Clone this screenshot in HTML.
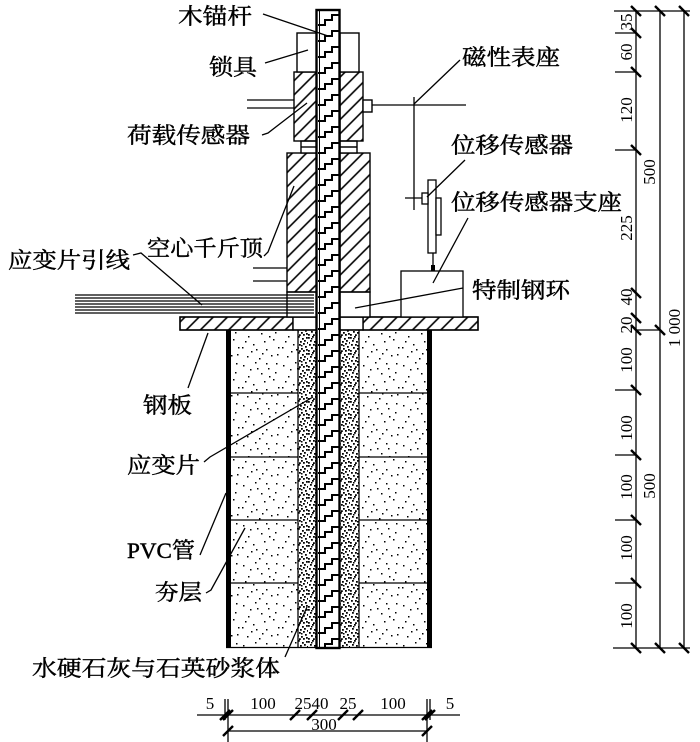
<!DOCTYPE html>
<html><head><meta charset="utf-8"><style>
html,body{margin:0;padding:0;background:#fff;}
svg{display:block;}
.cn{font-family:"Liberation Serif","Noto Serif CJK SC",serif;font-size:22px;fill:#000;stroke:#000;stroke-width:0.45px;}
.d{font-family:"Liberation Serif",serif;font-size:17px;fill:#000;}
</style></head><body>
<svg width="700" height="742" viewBox="0 0 700 742" xmlns="http://www.w3.org/2000/svg">
<defs>
<pattern id="h" width="10" height="10" patternUnits="userSpaceOnUse" patternTransform="rotate(45)"><line x1="5" y1="-1" x2="5" y2="11" stroke="#000" stroke-width="1.6"/></pattern>
<pattern id="sp" width="40" height="40" patternUnits="userSpaceOnUse"><path fill="#000" d="M3,5h1.5v1.5h-1.5z M15,2h1.5v1.5h-1.5z M28,8h1.5v1.5h-1.5z M36,3h1.5v1.5h-1.5z M8,16h1.5v1.5h-1.5z M21,13h1.5v1.5h-1.5z M33,19h1.5v1.5h-1.5z M2,27h1.5v1.5h-1.5z M13,24h1.5v1.5h-1.5z M26,29h1.5v1.5h-1.5z M38,27h1.5v1.5h-1.5z M7,36h1.5v1.5h-1.5z M19,38h1.5v1.5h-1.5z M31,35h1.5v1.5h-1.5z M24,21h1.5v1.5h-1.5z M11,31h1.5v1.5h-1.5z M17,8h1.5v1.5h-1.5z M35,12h1.5v1.5h-1.5z M5,21h1.5v1.5h-1.5z M29,16h1.5v1.5h-1.5z M22,33h1.5v1.5h-1.5z M10,9h1.5v1.5h-1.5z M37,34h1.5v1.5h-1.5z M16,29h1.5v1.5h-1.5z M26,3h1.5v1.5h-1.5z"/></pattern>
<pattern id="dn" width="14" height="16" patternUnits="userSpaceOnUse"><path fill="#000" d="M0,1h1.8v1.8h-1.8z M4,0h1.8v1.8h-1.8z M8,2h1.8v1.8h-1.8z M12,1h1.8v1.8h-1.8z M2,4h1.8v1.8h-1.8z M6,5h1.8v1.8h-1.8z M10,4h1.8v1.8h-1.8z M13,6h1v1.8h-1z M1,8h1.8v1.8h-1.8z M5,8h1.8v1.8h-1.8z M9,7h1.8v1.8h-1.8z M11,10h1.8v1.8h-1.8z M3,11h1.8v1.8h-1.8z M7,12h1.8v1.8h-1.8z M12,13h1.8v1.8h-1.8z M0,14h1.8v1.8h-1.8z M5,14.2h1.8v1.8h-1.8z M9,14h1.8v1.8h-1.8z M7,9h1.5v1.5h-1.5z M3,2h1.5v1.5h-1.5z"/></pattern>
<pattern id="st" x="318" y="10" width="22" height="16" patternUnits="userSpaceOnUse"><path d="M0,15 H7 V10 H14 V5 H22" fill="none" stroke="#000" stroke-width="2"/></pattern>
</defs>
<rect width="700" height="742" fill="#fff"/>

<!-- body fill -->
<rect x="231" y="330" width="67" height="318" fill="url(#sp)"/>
<rect x="359" y="330" width="68" height="318" fill="url(#sp)"/>
<rect x="298" y="330" width="19" height="318" fill="url(#dn)"/>
<rect x="340" y="330" width="19" height="318" fill="url(#dn)"/>
<g stroke="#000" stroke-width="1.3">
<line x1="231" y1="393" x2="298" y2="393"/><line x1="359" y1="393" x2="427" y2="393"/>
<line x1="231" y1="457" x2="298" y2="457"/><line x1="359" y1="457" x2="427" y2="457"/>
<line x1="231" y1="520" x2="298" y2="520"/><line x1="359" y1="520" x2="427" y2="520"/>
<line x1="231" y1="583" x2="298" y2="583"/><line x1="359" y1="583" x2="427" y2="583"/>
<line x1="298" y1="330" x2="298" y2="648"/><line x1="359" y1="330" x2="359" y2="648"/>
<line x1="226" y1="647.5" x2="432" y2="647.5"/>
</g>
<rect x="226" y="330" width="5" height="318" fill="#000"/>
<rect x="427" y="330" width="5" height="318" fill="#000"/>

<!-- plate -->
<g stroke="#000" stroke-width="1.4">
<rect x="180" y="317" width="113" height="13" fill="url(#h)"/>
<rect x="363" y="317" width="115" height="13" fill="url(#h)"/>
<rect x="293" y="317" width="24" height="13" fill="#fff"/>
<rect x="340" y="317" width="23" height="13" fill="#fff"/>
<rect x="180" y="317" width="298" height="13" fill="none"/>
<!-- ring -->
<rect x="287" y="292" width="30" height="25" fill="#fff"/>
<rect x="340" y="292" width="30" height="25" fill="#fff"/>
<!-- jack -->
<rect x="287" y="153" width="30" height="139" fill="url(#h)"/>
<rect x="340" y="153" width="30" height="139" fill="url(#h)"/>
<!-- spacers -->
<rect x="301" y="141" width="16" height="12" fill="#fff"/>
<rect x="340" y="141" width="17" height="12" fill="#fff"/>
<line x1="301" y1="147" x2="317" y2="147"/><line x1="340" y1="147" x2="357" y2="147"/>
<!-- load sensor -->
<rect x="294" y="72" width="23" height="69" fill="url(#h)"/>
<rect x="340" y="72" width="23" height="69" fill="url(#h)"/>
<!-- lock -->
<rect x="297" y="33" width="20" height="39" fill="#fff"/>
<rect x="340" y="33" width="19" height="39" fill="#fff"/>
<!-- knob -->
<rect x="363" y="100" width="9" height="12" fill="#fff"/>
</g>
<!-- rod -->
<rect x="317" y="10" width="23" height="638" fill="#fff"/>
<rect x="318" y="10" width="22" height="638" fill="url(#st)"/>
<rect x="316.5" y="10" width="23" height="638" fill="none" stroke="#000" stroke-width="2.4"/>
<line x1="319.5" y1="10" x2="319.5" y2="648" stroke="#000" stroke-width="1"/>

<!-- side lines and wires -->
<g stroke="#000" stroke-width="1.3">
<line x1="247" y1="100" x2="294" y2="100"/><line x1="247" y1="108" x2="294" y2="108"/>
<line x1="253" y1="268" x2="287" y2="268"/><line x1="253" y1="281" x2="287" y2="281"/>
<line x1="75" y1="295" x2="314" y2="295"/><line x1="75" y1="298" x2="314" y2="298"/>
<line x1="75" y1="301" x2="314" y2="301"/><line x1="75" y1="304" x2="314" y2="304"/>
<line x1="75" y1="307" x2="314" y2="307"/><line x1="75" y1="310" x2="314" y2="310"/>
<line x1="75" y1="313" x2="314" y2="313"/>
<!-- magnetic base -->
<line x1="372" y1="105" x2="466" y2="105"/>
<line x1="414" y1="97" x2="414" y2="210"/>
<line x1="405" y1="198" x2="422" y2="198"/>
<!-- displacement sensor -->
<rect x="428" y="180" width="8" height="73" fill="#fff"/>
<rect x="422" y="193" width="6" height="11" fill="#fff"/>
<rect x="436" y="198" width="5" height="37" fill="#fff"/>
<line x1="433" y1="253" x2="433" y2="265"/>
<rect x="401" y="271" width="62" height="46" fill="#fff"/>
</g>
<rect x="431" y="265" width="4" height="6" fill="#000"/>

<!-- leaders -->
<g stroke="#000" stroke-width="1.3" fill="none">
<line x1="263" y1="14" x2="328" y2="36"/>
<line x1="265" y1="63" x2="308" y2="50"/>
<polyline points="262,135 268,133 307,103"/>
<polyline points="264,256 268,252 294,186"/>
<polyline points="133,255 141,253 202,305"/>
<line x1="208" y1="333" x2="188" y2="388"/>
<polyline points="204,462 210,457 313,397"/>
<line x1="200" y1="555" x2="226" y2="493"/>
<polyline points="206,593 211,590 245,528"/>
<line x1="285" y1="657" x2="307" y2="607"/>
<line x1="460" y1="60" x2="414" y2="104"/>
<line x1="465" y1="160" x2="427" y2="197"/>
<line x1="468" y1="218" x2="433" y2="283"/>
<line x1="463" y1="288" x2="355" y2="308"/>
</g>

<!-- labels -->
<text class="cn" x="178" y="24" textLength="74" lengthAdjust="spacingAndGlyphs">木锚杆</text>
<text class="cn" x="209" y="75" textLength="48" lengthAdjust="spacingAndGlyphs">锁具</text>
<text class="cn" x="127" y="143" textLength="123" lengthAdjust="spacingAndGlyphs">荷载传感器</text>
<text class="cn" x="147" y="256" textLength="116" lengthAdjust="spacingAndGlyphs">空心千斤顶</text>
<text class="cn" x="8" y="268" textLength="122" lengthAdjust="spacingAndGlyphs">应变片引线</text>
<text class="cn" x="143" y="413" textLength="49" lengthAdjust="spacingAndGlyphs">钢板</text>
<text class="cn" x="127" y="473" textLength="73" lengthAdjust="spacingAndGlyphs">应变片</text>
<text class="cn" x="127" y="558" textLength="68" lengthAdjust="spacingAndGlyphs">PVC管</text>
<text class="cn" x="155" y="600" textLength="47" lengthAdjust="spacingAndGlyphs">夯层</text>
<text class="cn" x="32" y="676" textLength="248" lengthAdjust="spacingAndGlyphs">水硬石灰与石英砂浆体</text>
<text class="cn" x="462" y="65" textLength="98" lengthAdjust="spacingAndGlyphs">磁性表座</text>
<text class="cn" x="451" y="153" textLength="122" lengthAdjust="spacingAndGlyphs">位移传感器</text>
<text class="cn" x="451" y="210" textLength="171" lengthAdjust="spacingAndGlyphs">位移传感器支座</text>
<text class="cn" x="472" y="298" textLength="98" lengthAdjust="spacingAndGlyphs">特制钢环</text>

<!-- right dimensions -->
<g stroke="#000" stroke-width="1.3">
<line x1="636" y1="11" x2="636" y2="648"/>
<line x1="660" y1="11" x2="660" y2="648"/>
<line x1="684" y1="11" x2="684" y2="648"/>
<line x1="614" y1="11" x2="690" y2="11"/>
<line x1="613" y1="648" x2="690" y2="648"/>
<line x1="636" y1="330" x2="660" y2="330"/>
<line x1="615" y1="33" x2="636" y2="33"/>
<line x1="615" y1="72" x2="636" y2="72"/>
<line x1="615" y1="150" x2="636" y2="150"/>
<line x1="615" y1="390" x2="636" y2="390"/>
<line x1="615" y1="455" x2="636" y2="455"/>
<line x1="615" y1="520" x2="636" y2="520"/>
<line x1="615" y1="583" x2="636" y2="583"/>
</g>
<g stroke="#000" stroke-width="2.4">
<line x1="631" y1="6" x2="641" y2="16"/><line x1="655" y1="6" x2="665" y2="16"/><line x1="679" y1="6" x2="689" y2="16"/>
<line x1="631" y1="28" x2="641" y2="38"/>
<line x1="631" y1="67" x2="641" y2="77"/>
<line x1="631" y1="145" x2="641" y2="155"/>
<line x1="631" y1="288" x2="641" y2="298"/>
<line x1="631" y1="313" x2="641" y2="323"/>
<line x1="631" y1="325" x2="641" y2="335"/><line x1="655" y1="325" x2="665" y2="335"/>
<line x1="631" y1="385" x2="641" y2="395"/>
<line x1="631" y1="450" x2="641" y2="460"/>
<line x1="631" y1="515" x2="641" y2="525"/>
<line x1="631" y1="578" x2="641" y2="588"/>
<line x1="631" y1="643" x2="641" y2="653"/><line x1="655" y1="643" x2="665" y2="653"/><line x1="679" y1="643" x2="689" y2="653"/>
</g>
<g class="d" text-anchor="middle">
<text transform="translate(632,22) rotate(-90)">35</text>
<text transform="translate(632,52) rotate(-90)">60</text>
<text transform="translate(632,110) rotate(-90)">120</text>
<text transform="translate(632,228) rotate(-90)">225</text>
<text transform="translate(632,297) rotate(-90)">40</text>
<text transform="translate(632,325) rotate(-90)">20</text>
<text transform="translate(632,360) rotate(-90)">100</text>
<text transform="translate(632,428) rotate(-90)">100</text>
<text transform="translate(632,487) rotate(-90)">100</text>
<text transform="translate(632,548) rotate(-90)">100</text>
<text transform="translate(632,616) rotate(-90)">100</text>
<text transform="translate(655,172) rotate(-90)">500</text>
<text transform="translate(655,486) rotate(-90)">500</text>
<text transform="translate(680,328) rotate(-90)">1 000</text>
</g>

<!-- bottom dimensions -->
<g stroke="#000" stroke-width="1.3">
<line x1="197" y1="715" x2="460" y2="715"/>
<line x1="228" y1="731" x2="427" y2="731"/>
<line x1="225" y1="699" x2="225" y2="720"/>
<line x1="228" y1="699" x2="228" y2="742"/>
<line x1="427" y1="699" x2="427" y2="742"/>
<line x1="430" y1="699" x2="430" y2="720"/>
</g>
<g stroke="#000" stroke-width="2.4">
<line x1="220" y1="720" x2="230" y2="710"/><line x1="223" y1="720" x2="233" y2="710"/>
<line x1="290" y1="720" x2="300" y2="710"/>
<line x1="307" y1="720" x2="317" y2="710"/>
<line x1="338" y1="720" x2="348" y2="710"/>
<line x1="353" y1="720" x2="363" y2="710"/>
<line x1="422" y1="720" x2="432" y2="710"/><line x1="425" y1="720" x2="435" y2="710"/>
<line x1="223" y1="736" x2="233" y2="726"/>
<line x1="422" y1="736" x2="432" y2="726"/>
</g>
<g class="d" text-anchor="middle">
<text x="210" y="709">5</text>
<text x="263" y="709">100</text>
<text x="303" y="709">25</text>
<text x="320" y="709">40</text>
<text x="348" y="709">25</text>
<text x="393" y="709">100</text>
<text x="450" y="709">5</text>
<text x="324" y="730">300</text>
</g>
</svg>
</body></html>
